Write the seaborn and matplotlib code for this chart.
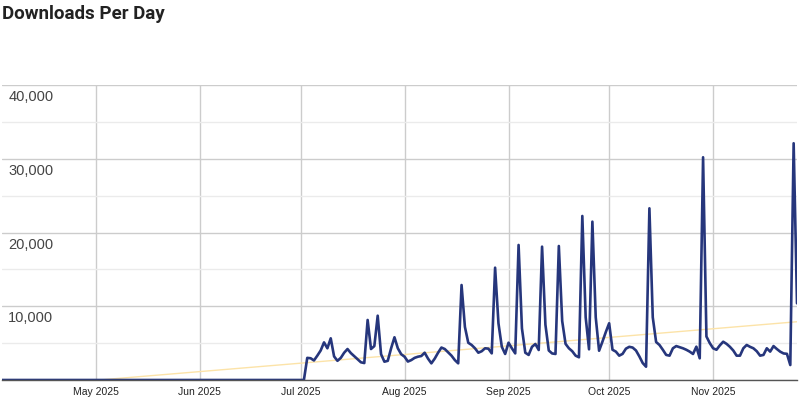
import seaborn as sns
import matplotlib.pyplot as plt
import matplotlib.dates as mdates
import pandas as pd

# daily downloads, Apr 3 - Jun 30 were all zero
pre_launch = [0] * 89
downloads = [
    0, 0, 3000, 2950, 2650, 3300, 4000, 5100, 4300, 5650,      # Jul 1-10
    3200, 2600, 3000, 3700, 4200, 3650, 3230, 2820, 2400, 2300,  # Jul 11-20
    8140, 4200, 4600, 8720, 3500, 2480, 2600, 4300, 5790, 4300,  # Jul 21-30
    3500, 3160, 2500, 2700, 3000, 3160, 3250, 3700, 2900, 2260,  # Jul 31 - Aug 9
    2900, 3700, 4400, 4200, 3750, 3300, 2700, 2260, 12880, 7200,  # Aug 10-19
    5050, 4750, 4300, 3700, 3900, 4300, 4250, 3610, 15230, 7690,  # Aug 20-29
    4500, 3530, 5060, 4300, 3610, 18310, 7000, 3700, 3400, 4500,  # Aug 30 - Sep 8
    4880, 4070, 18080, 7500, 4000, 3600, 3530, 18170, 8000, 4900,  # Sep 9-18
    4300, 3900, 3300, 3080, 22240, 8500, 4160, 21470, 8500, 3970,  # Sep 19-28
    5200, 6500, 7690, 4100, 3850, 3300, 3540, 4250, 4500, 4400,  # Sep 29 - Oct 8
    4000, 3200, 2300, 1800, 23280, 8500, 5150, 4750, 4100, 3400,  # Oct 9-18
    3300, 4300, 4600, 4450, 4300, 4100, 3850, 3530, 4520, 2940,  # Oct 19-28
    30200, 5900, 5000, 4300, 4100, 4700, 5190, 4900, 4500, 4000,  # Oct 29 - Nov 7
    3300, 3300, 4300, 4750, 4500, 4300, 3900, 3300, 3400, 4300,  # Nov 8-17
    3850, 4600, 4200, 3840, 3600, 3550, 2030, 32100, 10400,      # Nov 18-26
]
dates = pd.date_range("2025-04-03", periods=len(pre_launch) + len(downloads), freq="D")
values = pre_launch + downloads

trend_dates = pd.to_datetime(["2025-04-03", "2025-11-26"])
trend_values = [-1100, 7900]

y_ticks = [10000, 20000, 30000, 40000]
y_labels = ["10,000", "20,000", "30,000", "40,000"]

df = pd.DataFrame({"date": dates, "downloads": values})
trend = pd.DataFrame({"date": trend_dates, "downloads": trend_values})

sns.set_style("white")
plt.rcParams["font.family"] = ["Liberation Sans", "DejaVu Sans"]

fig = plt.figure(figsize=(8, 4.03), dpi=100)
ax = fig.add_axes([2 / 800, 23 / 403, 795 / 800, 295 / 403])

sns.lineplot(data=trend, x="date", y="downloads", ax=ax, color="#fce3a8", linewidth=1.0)
sns.lineplot(data=df, x="date", y="downloads", ax=ax, color="#26367c", linewidth=1.9)

ax.set_xlim(pd.Timestamp("2025-04-03"), pd.Timestamp("2025-11-26"))
ax.set_ylim(0, 40000)

ax.yaxis.set_major_locator(plt.FixedLocator([0] + y_ticks))
ax.yaxis.set_minor_locator(plt.FixedLocator([5000, 15000, 25000, 35000]))
ax.grid(which="major", axis="y", color="#cccccc", linewidth=1)
ax.grid(which="minor", axis="y", color="#ebebeb", linewidth=1)
ax.xaxis.set_major_locator(mdates.MonthLocator(bymonthday=1))
ax.xaxis.set_major_formatter(mdates.DateFormatter("%b %Y"))
ax.grid(which="major", axis="x", color="#cccccc", linewidth=1)
ax.set_axisbelow(True)

ax.set_yticklabels([])
ax.tick_params(axis="y", length=0, which="both")
ax.tick_params(axis="x", length=0, pad=5, labelsize=7.5, labelcolor="#222222")
for t, lab in zip(y_ticks, y_labels):
    ax.text(0.008, t - 700, lab, transform=ax.get_yaxis_transform(),
            ha="left", va="top", fontsize=10.5, color="#444444")

for side in ["left", "right", "top"]:
    ax.spines[side].set_visible(False)
ax.spines["bottom"].set_color("#555555")
ax.spines["bottom"].set_linewidth(1)

ax.set_xlabel("")
ax.set_ylabel("")
fig.text(2 / 800, 1 - 5 / 403, "Downloads Per Day", ha="left", va="top",
         fontsize=13.5, fontweight="bold", color="#222222",
         family=["Roboto", "DejaVu Sans"])

fig.savefig("out.png", dpi=100)
